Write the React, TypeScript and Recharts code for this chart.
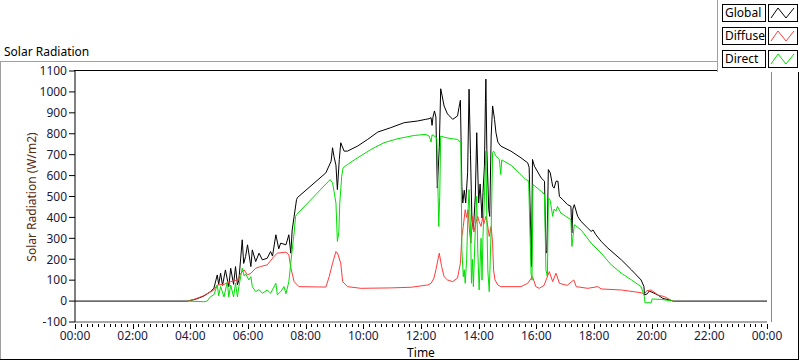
import React from 'react';
import { LineChart, Line, XAxis, YAxis } from 'recharts';

// time in minutes since 00:00, values in W/m2
const GLOBAL_T = [0,234,250,268,282,289,296,299,303,307,313,320,324,330,334,338,341,348,351,355,359,366,369,376,383,390,400,407,411,418,424,428,439,445,449,452,456,461,463,522,533,536,539,543,546,550,553,560,567,588,609,630,657,685,713,730,737,741,743,745,748,751,754,758,761,764,768,775,786,796,799,802,805,807,810,813,817,820,823,826,829,833,836,840,843,847,849,852,854,855,857,861,863,866,869,873,876,880,886,907,928,942,945,949,950,952,956,970,977,980,982,985,989,994,997,1001,1005,1008,1015,1025,1032,1034,1036,1039,1046,1053,1067,1074,1078,1084,1095,1109,1137,1158,1178,1184,1185,1191,1195,1203,1213,1223,1241,1245,1440];
const GLOBAL_V = [0,0,8,24,45,61,125,80,133,75,149,69,157,80,165,77,101,293,180,213,269,165,245,189,229,197,205,237,215,317,250,277,269,317,229,340,405,485,495,613,669,733,690,650,533,677,757,717,717,741,773,808,829,853,861,869,872,877,840,880,909,880,540,733,1015,981,933,895,869,885,925,960,549,469,530,469,613,1013,700,389,341,501,805,469,560,397,520,645,949,1061,725,437,405,789,933,869,805,760,741,717,685,661,640,261,165,677,645,589,573,229,240,629,613,549,540,573,573,500,485,461,453,326,440,461,405,381,349,333,340,317,285,253,197,149,101,69,29,35,48,40,29,13,3,0,0];

const DIFFUSE_T = [234,250,266,289,296,310,324,338,345,352,359,366,376,386,400,414,421,439,445,449,456,466,522,529,536,543,547,553,557,567,595,657,699,734,741,747,751,758,763,768,775,786,796,802,805,808,812,815,818,821,824,827,830,834,838,841,845,848,851,855,858,862,866,869,871,874,880,886,928,942,952,959,966,976,987,994,1001,1008,1024,1038,1043,1067,1088,1095,1137,1178,1185,1190,1199,1213,1227,1241,1245];
const DIFFUSE_V = [0,10,24,53,77,80,93,101,133,149,125,133,157,165,173,213,229,234,221,160,93,69,67,117,181,237,225,181,93,69,61,63,66,77,85,110,149,229,165,117,101,93,110,181,309,357,437,400,437,330,277,405,330,373,405,380,357,397,370,405,373,309,357,277,149,101,77,69,69,85,117,69,61,75,141,93,133,85,75,101,69,61,69,58,53,40,34,50,53,29,21,3,0];

const DIRECT_T = [234,268,275,282,289,296,299,303,310,317,320,324,330,334,338,341,348,352,355,362,366,369,376,383,390,400,407,418,421,428,435,439,445,449,452,456,459,461,531,536,539,543,546,549,551,555,558,567,588,616,643,671,706,730,737,741,743,747,753,757,759,761,772,786,796,803,805,808,810,812,815,818,820,823,825,827,829,833,836,838,841,845,847,849,852,855,857,859,862,866,869,871,876,883,886,888,907,928,938,944,949,951,953,970,977,980,983,985,989,994,997,1001,1004,1011,1032,1034,1039,1053,1074,1095,1116,1137,1158,1178,1185,1186,1199,1201,1220,1241,1245];
const DIRECT_V = [0,-3,0,21,30,77,25,70,20,93,20,77,20,85,20,69,157,120,130,101,117,69,45,55,37,53,37,85,30,45,69,35,93,181,245,326,405,413,581,565,525,469,285,330,469,597,637,653,685,725,757,776,792,797,789,760,795,790,780,357,501,789,781,776,773,757,245,117,150,85,200,437,533,350,85,200,69,341,501,250,53,300,100,309,501,717,400,149,45,341,709,717,693,677,605,675,650,605,581,575,133,100,557,525,509,149,117,493,480,405,440,430,453,421,389,261,365,341,277,229,173,133,101,69,21,-8,-8,10,8,1,0];

const Y_TICKS = [-100, 0, 100, 200, 300, 400, 500, 600, 700, 800, 900, 1000, 1100];
const X_LABELS = ['00:00','02:00','04:00','06:00','08:00','10:00','12:00','14:00','16:00','18:00','20:00','22:00','00:00'];
const X_MAJOR_STEP = 120;
const X_MINOR_STEP = 12;

const SERIES = [
  { name: 'Global', color: '#000000', t: GLOBAL_T, v: GLOBAL_V },
  { name: 'Diffuse', color: '#ff3b3b', t: DIFFUSE_T, v: DIFFUSE_V },
  { name: 'Direct', color: '#00e000', t: DIRECT_T, v: DIRECT_V },
];

const FONT = "'Noto Sans', 'DejaVu Sans', sans-serif";
const X_TICKS: number[] = [];
for (let m = 0; m <= 1440; m += X_MINOR_STEP) X_TICKS.push(m);

const XTick = (props: any) => {
  const { x, y, payload } = props;
  const v = payload.value as number;
  const major = v % X_MAJOR_STEP === 0;
  const xx = Math.round(x) + 0.5;
  return (
    <g>
      <line x1={xx} x2={xx} y1={y + 2} y2={y + (major ? 7 : 5)} stroke="#000" strokeWidth={1} shapeRendering="crispEdges" />
      {major && (
        <text x={x} y={y + 18} textAnchor="middle" fontSize={12} fontFamily={FONT} fill="#1a1a40">
          {X_LABELS[v / X_MAJOR_STEP]}
        </text>
      )}
    </g>
  );
};

const abs = (s: React.CSSProperties): React.CSSProperties => ({ position: 'absolute', ...s });

export default function App() {
  return (
    <div style={abs({ left: 0, top: 0, width: 800, height: 361, background: '#fff', overflow: 'hidden', fontFamily: FONT })}>
      <LineChart width={800} height={361} margin={{ top: 71, right: 33, bottom: 9, left: 15 }}>
        <XAxis
          dataKey="t"
          type="number"
          domain={[0, 1440]}
          ticks={X_TICKS}
          interval={0}
          tickLine={false}
          tickSize={0}
          tickMargin={0}
          height={30}
          tick={<XTick />}
          axisLine={{ stroke: '#555' }}
          allowDataOverflow
        />
        <YAxis
          type="number"
          domain={[-100, 1100]}
          ticks={Y_TICKS}
          interval={0}
          width={60}
          tickSize={6}
          tickMargin={2}
          axisLine={{ stroke: '#000' }}
          tickLine={{ stroke: '#000' }}
          tick={{ fontSize: 12, fontFamily: FONT, fill: '#1a1a40' }}
          allowDataOverflow
        />
        {SERIES.map((s) => (
          <Line
            key={s.name}
            name={s.name}
            data={s.t.map((t, i) => ({ t, v: s.v[i] }))}
            dataKey="v"
            type="linear"
            stroke={s.color}
            strokeWidth={1}
            dot={false}
            isAnimationActive={false}
          />
        ))}
      </LineChart>

      {/* frames */}
      <div style={abs({ left: 0, top: 61, width: 717, height: 1, background: '#a0a0a0' })} />
      <div style={abs({ left: 0, top: 61, width: 1, height: 298, background: '#a0a0a0' })} />
      <div style={abs({ left: 0, top: 359, width: 799, height: 1, background: '#000' })} />
      <div style={abs({ left: 798, top: 72, width: 1, height: 288, background: '#000' })} />
      <div style={abs({ left: 74, top: 70, width: 697, height: 1, background: '#000' })} />
      <div style={abs({ left: 771, top: 70, width: 1, height: 252, background: '#888' })} />

      {/* texts */}
      <div style={abs({ left: 4, top: 43, fontSize: 12, color: '#000', whiteSpace: 'nowrap' })}>Solar Radiation</div>
      <svg width={800} height={361} style={abs({ left: 0, top: 0, pointerEvents: 'none' })}>
        <text x={0} y={0} transform="translate(36,197) rotate(-90)" textAnchor="middle" fontSize={12} fontFamily={FONT} fill="#5a2a10">
          Solar Radiation (W/m2)
        </text>
        <text x={421} y={357} textAnchor="middle" fontSize={12} fontFamily={FONT} fill="#000">
          Time
        </text>
      </svg>

      {/* legend */}
      <div style={abs({ left: 717, top: 0, width: 83, height: 72, background: '#fff', borderLeft: '1px solid #a0a0a0' })}>
        {SERIES.map((s, i) => (
          <div key={s.name}>
            <div style={abs({ left: 4, top: 4 + i * 23, width: 40, height: 16, border: '1px solid #000', fontSize: 12, lineHeight: '16px', paddingLeft: 2, boxSizing: 'content-box', whiteSpace: 'nowrap', color: '#000' })}>
              {s.name}
            </div>
            <svg width={30} height={18} style={abs({ left: 50, top: 4 + i * 23 })}>
              <rect x={0.5} y={0.5} width={29} height={17} fill="#fff" stroke="#000" />
              <polyline points="3,14 10,4 18,14 26,4" fill="none" stroke={s.color} strokeWidth={1} />
            </svg>
          </div>
        ))}
      </div>
    </div>
  );
}
